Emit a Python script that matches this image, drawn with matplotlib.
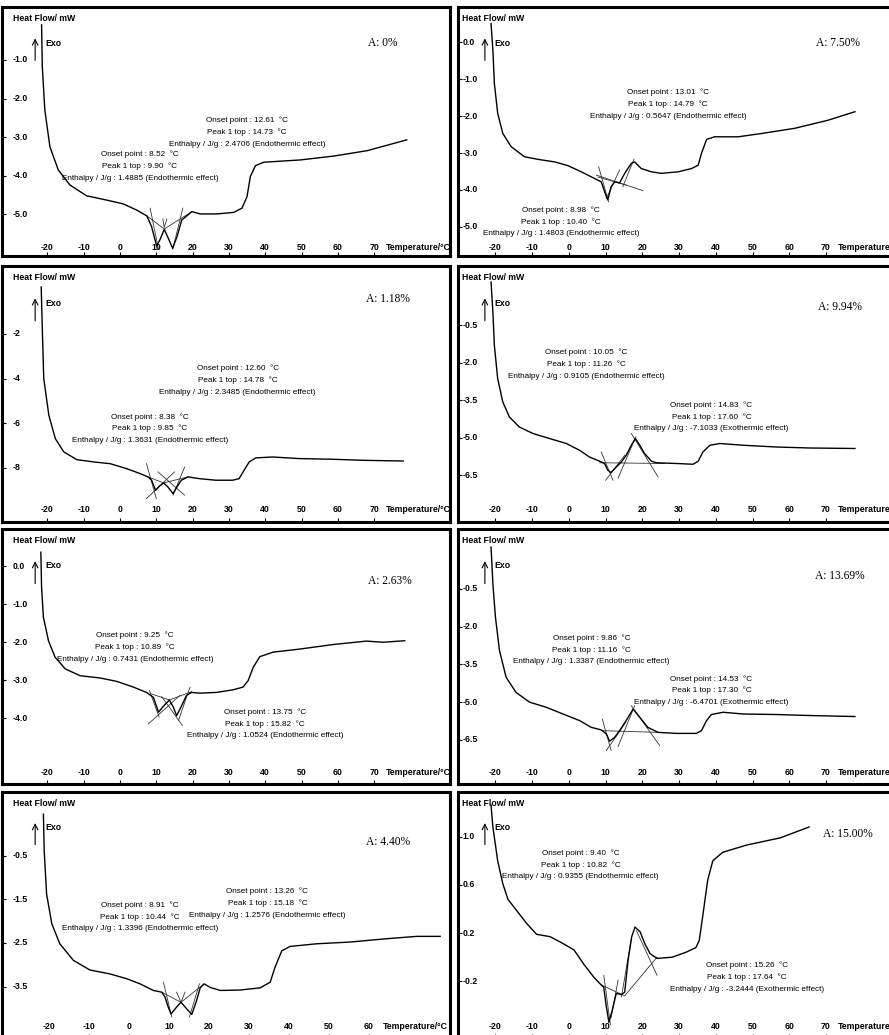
import matplotlib.pyplot as plt
from matplotlib.transforms import blended_transform_factory

plt.rcParams["font.family"] = ["Liberation Sans Narrow", "Liberation Sans", "DejaVu Sans"]

# ---- DSC curves (temperature in degC, heat flow in mW) ----
t_a0 = [-21.6, -21.4, -20.7, -19.3, -17.0, -13.8, -9.2, -3.7, 0.9, 4.6, 7.4, 8.7, 10.1, 11.0,
        12.2, 13.3, 14.5, 15.7, 17.0, 19.8, 22.1, 26.7, 31.3, 33.6, 35.0, 35.9, 37.3, 39.6,
        49.7, 58.9, 68.1, 79.0]
hf_a0 = [-0.09, -1.17, -2.30, -3.25, -3.85, -4.24, -4.52, -4.63, -4.73, -4.89, -5.04, -5.32,
         -5.82, -5.66, -5.39, -5.62, -5.88, -5.58, -5.15, -4.93, -4.99, -4.99, -4.95, -4.84,
         -4.54, -4.02, -3.74, -3.65, -3.59, -3.49, -3.35, -3.07]

t_a118 = [-21.7, -21.4, -21.0, -19.6, -17.8, -15.5, -11.9, -7.3, -2.7, 1.8, 5.5, 7.7, 8.7,
          9.8, 10.9, 12.0, 13.2, 14.6, 15.7, 16.9, 18.7, 21.9, 26.4, 31.0, 32.8, 34.2, 35.6,
          37.4, 42.0, 49.2, 58.3, 67.5, 78.0]
hf_a118 = [0.10, -1.76, -4.00, -5.64, -6.69, -7.28, -7.63, -7.73, -7.81, -8.03, -8.25, -8.40,
           -8.55, -9.00, -8.81, -8.67, -8.85, -9.15, -8.85, -8.55, -8.40, -8.48, -8.55, -8.55,
           -8.48, -8.10, -7.73, -7.55, -7.51, -7.58, -7.61, -7.66, -7.69]

t_a263 = [-21.8, -21.6, -21.1, -19.7, -17.9, -15.1, -11.0, -5.5, -0.9, 3.7, 7.3, 9.2, 10.6,
          11.9, 13.6, 14.7, 15.6, 17.0, 18.3, 19.7, 22.0, 26.6, 31.2, 33.9, 35.3, 36.7, 38.5,
          42.2, 49.5, 58.7, 67.9, 72.5, 78.4]
hf_a263 = [0.37, -0.55, -1.34, -1.96, -2.39, -2.70, -2.88, -2.94, -3.03, -3.18, -3.32, -3.45,
           -3.84, -3.69, -3.52, -3.71, -3.93, -3.67, -3.40, -3.32, -3.34, -3.32, -3.25, -3.18,
           -3.01, -2.66, -2.38, -2.26, -2.18, -2.06, -1.97, -2.00, -1.96]

t_a440 = [-21.4, -21.2, -20.6, -19.3, -17.3, -13.9, -9.8, -4.8, -0.6, 2.8, 6.1, 8.2, 9.0, 9.8,
          10.5, 11.9, 13.0, 14.4, 15.7, 16.9, 17.8, 18.8, 20.3, 22.8, 27.8, 32.8, 35.3, 36.5,
          38.2, 40.3, 46.9, 55.3, 63.6, 71.9, 77.8]
hf_a440 = [0.45, -0.39, -1.38, -2.06, -2.52, -2.90, -3.12, -3.21, -3.32, -3.44, -3.59, -3.63,
           -3.74, -3.97, -4.13, -3.97, -3.86, -4.01, -4.14, -3.82, -3.53, -3.44, -3.52, -3.59,
           -3.58, -3.53, -3.40, -3.06, -2.68, -2.58, -2.52, -2.48, -2.41, -2.35, -2.35]

t_a750 = [-21.2, -20.7, -20.3, -19.4, -18.0, -15.7, -12.1, -8.5, -3.9, -0.3, 3.4, 7.0, 8.8,
          10.2, 10.6, 11.5, 12.5, 13.8, 15.2, 17.0, 17.9, 19.7, 22.5, 25.2, 29.7, 33.4, 35.2,
          36.1, 37.5, 39.7, 46.1, 52.5, 61.5, 70.6, 77.9]
hf_a750 = [0.51, -0.21, -1.11, -1.92, -2.47, -2.83, -3.10, -3.17, -3.24, -3.34, -3.51, -3.69,
           -3.78, -4.18, -4.27, -3.91, -3.78, -3.81, -3.55, -3.28, -3.24, -3.42, -3.51, -3.55,
           -3.51, -3.42, -3.33, -3.01, -2.63, -2.56, -2.56, -2.47, -2.33, -2.11, -1.88]

t_a994 = [-21.2, -20.7, -20.3, -19.4, -18.0, -16.2, -13.5, -9.8, -5.3, -0.7, 2.9, 5.6, 8.4,
          9.7, 10.6, 11.5, 12.9, 14.3, 15.6, 17.0, 18.1, 19.3, 20.6, 22.5, 23.8, 29.3, 33.8,
          35.2, 36.5, 38.4, 41.1, 47.5, 56.5, 65.6, 77.9]
hf_a994 = [1.23, 0.03, -1.30, -2.63, -3.57, -4.17, -4.57, -4.83, -5.03, -5.23, -5.50, -5.77,
           -5.94, -6.03, -6.30, -6.39, -6.17, -5.97, -5.70, -5.30, -5.03, -5.30, -5.63, -5.94,
           -6.00, -6.03, -6.06, -5.94, -5.57, -5.30, -5.23, -5.30, -5.37, -5.41, -5.43]

t_a1369 = [-21.2, -20.7, -20.0, -18.9, -17.1, -14.4, -10.7, -6.2, -1.6, 2.9, 6.1, 8.8, 10.2,
           11.1, 12.5, 13.8, 15.6, 17.5, 19.3, 21.5, 24.3, 29.3, 34.7, 36.1, 37.5, 38.8, 42.0,
           47.5, 56.5, 65.6, 77.9]
hf_a1369 = [1.16, -0.30, -1.63, -2.95, -4.01, -4.61, -5.00, -5.20, -5.47, -5.73, -6.00, -6.10,
            -6.26, -6.55, -6.39, -6.13, -5.73, -5.27, -5.60, -6.00, -6.20, -6.24, -6.24, -6.13,
            -5.73, -5.49, -5.40, -5.47, -5.49, -5.53, -5.57]

t_a1500 = [-21.2, -20.7, -19.4, -18.0, -16.6, -14.3, -11.5, -8.8, -5.1, -1.4, 1.4, 4.1, 6.9,
           8.8, 9.5, 10.1, 10.9, 11.8, 12.9, 14.3, 15.2, 16.1, 17.1, 18.0, 19.4, 20.7, 22.1,
           24.0, 28.1, 31.8, 34.6, 35.5, 36.4, 37.8, 39.2, 41.9, 48.4, 57.6, 65.4]
hf_a1500 = [1.26, 1.08, 0.80, 0.61, 0.48, 0.39, 0.28, 0.19, 0.17, 0.11, 0.06, -0.06, -0.17,
            -0.23, -0.25, -0.39, -0.54, -0.44, -0.30, -0.31, -0.29, -0.03, 0.17, 0.25, 0.21,
            0.11, 0.03, -0.01, 0.00, 0.04, 0.08, 0.14, 0.33, 0.64, 0.80, 0.87, 0.93, 0.99, 1.08]

# ---- peak evaluation construction lines (baselines and tangents) ----
guides_a0 = [[(7.4, -5.04), (12.2, -5.38), (19.8, -4.93)], [(8.3, -4.84), (10.6, -5.90)],
             [(17.3, -4.84), (14.55, -5.90)], [(11.8, -5.12), (12.2, -5.34), (12.9, -5.12)]]
guides_a118 = [[(7.7, -8.40), (12.0, -8.67), (18.7, -8.40)], [(7.3, -9.37), (15.0, -8.18)],
               [(10.5, -8.18), (17.8, -9.22)], [(7.3, -7.81), (10.0, -9.37)],
               [(14.6, -9.22), (17.8, -7.96)]]
guides_a263 = [[(8.7, -3.36), (13.6, -3.52), (19.7, -3.30)], [(7.8, -4.15), (16.5, -3.40)],
               [(11.5, -3.43), (17.2, -4.19)], [(8.1, -3.27), (10.8, -3.97)],
               [(16.1, -4.06), (19.3, -3.18)]]
guides_a440 = [[(8.2, -3.63), (13.0, -3.86), (18.75, -3.44)], [(8.6, -3.40), (10.7, -4.20)],
               [(17.6, -3.44), (15.1, -4.20)], [(11.9, -3.63), (13.0, -3.86), (14.0, -3.63)]]
guides_a750 = [[(7.5, -3.60), (20.2, -4.02)], [(7.9, -3.65), (15.6, -3.87)],
               [(8.1, -3.37), (10.8, -4.32)], [(10.2, -4.23), (13.8, -3.46)],
               [(14.7, -3.91), (17.7, -3.17)]]
guides_a994 = [[(8.4, -6.00), (26.1, -6.03)], [(8.8, -5.57), (12.0, -6.70)],
               [(10.0, -6.70), (15.2, -5.70)], [(13.4, -6.61), (18.2, -4.97)],
               [(17.0, -4.83), (24.3, -6.57)]]
guides_a1369 = [[(8.8, -6.13), (24.7, -6.20)], [(9.1, -5.67), (11.5, -6.92)],
                [(10.2, -6.92), (15.5, -5.80)], [(13.4, -6.76), (17.9, -5.14)],
                [(17.0, -5.14), (24.7, -6.72)]]
guides_a1500 = [[(8.8, -0.23), (15.2, -0.32), (24.0, 0.00)], [(9.5, -0.15), (11.3, -0.56)],
                [(11.5, -0.50), (13.4, -0.19)], [(14.3, -0.33), (17.1, 0.17)],
                [(18.4, 0.22), (24.0, -0.15)]]

# ---- peak results printed by the instrument software ----
peaks_a0 = [(12.61, 14.73, "2.4706", "Endothermic"), (8.52, 9.90, "1.4885", "Endothermic")]
peaks_a118 = [(12.60, 14.78, "2.3485", "Endothermic"), (8.38, 9.85, "1.3631", "Endothermic")]
peaks_a263 = [(9.25, 10.89, "0.7431", "Endothermic"), (13.75, 15.82, "1.0524", "Endothermic")]
peaks_a440 = [(8.91, 10.44, "1.3396", "Endothermic"), (13.26, 15.18, "1.2576", "Endothermic")]
peaks_a750 = [(13.01, 14.79, "0.5647", "Endothermic"), (8.98, 10.40, "1.4803", "Endothermic")]
peaks_a994 = [(10.05, 11.26, "0.9105", "Endothermic"), (14.83, 17.60, "-7.1033", "Exothermic")]
peaks_a1369 = [(9.86, 11.16, "1.3387", "Endothermic"), (14.53, 17.30, "-6.4701", "Exothermic")]
peaks_a1500 = [(9.40, 10.82, "0.9355", "Endothermic"), (15.26, 17.64, "-3.2444", "Exothermic")]

sample_labels = ["A: 0%", "A: 1.18%", "A: 2.63%", "A: 4.40%",
                 "A: 7.50%", "A: 9.94%", "A: 13.69%", "A: 15.00%"]

yticks_a0 = [-1.0, -2.0, -3.0, -4.0, -5.0]
yticks_a118 = [-2, -4, -6, -8]
yticks_a263 = [0.0, -1.0, -2.0, -3.0, -4.0]
yticks_a440 = [-0.5, -1.5, -2.5, -3.5]
yticks_a750 = [0.0, -1.0, -2.0, -3.0, -4.0, -5.0]
yticks_a994 = [-0.5, -2.0, -3.5, -5.0, -6.5]
yticks_a1369 = [-0.5, -2.0, -3.5, -5.0, -6.5]
yticks_a1500 = [1.0, 0.6, 0.2, -0.2]

xticks_full = [-20, -10, 0, 10, 20, 30, 40, 50, 60, 70]
xticks_short = [-20, -10, 0, 10, 20, 30, 40, 50, 60]

W, H = 889, 1035
COLS = [(2, 450), (458, 906)]
ROWS = [(7, 256), (266, 522), (529, 784), (792, 1038)]

# panel layout: grid slot, axis limits, height of the x labels, text anchors
panels = [
    dict(col=0, row=0, t=t_a0, hf=hf_a0, guides=guides_a0, peaks=peaks_a0, yt=yticks_a0,
         fmt="{:.1f}", xt=xticks_full, xlim=(-32.5, 90.9), ylim=(-6.08, 0.373), xl_y=0.035,
         blocks=[(35.0, -2.87), (5.5, -3.76)], lab=(72.3, -0.57)),
    dict(col=0, row=1, t=t_a118, hf=hf_a118, guides=guides_a118, peaks=peaks_a118,
         yt=yticks_a118, fmt="{:.0f}", xt=xticks_full, xlim=(-32.5, 90.9), ylim=(-10.42, 1.04),
         xl_y=0.047, blocks=[(32.4, -4.07), (8.2, -6.24)], lab=(73.8, -0.42)),
    dict(col=0, row=2, t=t_a263, hf=hf_a263, guides=guides_a263, peaks=peaks_a263,
         yt=yticks_a263, fmt="{:.1f}", xt=xticks_full, xlim=(-32.5, 90.9), ylim=(-5.73, 0.98),
         xl_y=0.047, blocks=[(4.1, -2.13), (39.9, -4.15)], lab=(74.3, -0.39)),
    dict(col=0, row=3, t=t_a440, hf=hf_a440, guides=guides_a440, peaks=peaks_a440,
         yt=yticks_a440, fmt="{:.1f}", xt=xticks_short, xlim=(-31.75, 80.25), ylim=(-4.68, 0.96),
         xl_y=0.045, blocks=[(2.8, -1.90), (34.6, -1.59)], lab=(64.8, -0.19)),
    dict(col=1, row=0, t=t_a750, hf=hf_a750, guides=guides_a750, peaks=peaks_a750,
         yt=yticks_a750, fmt="{:.1f}", xt=xticks_full, xlim=(-30.2, 91.8), ylim=(-5.79, 0.957),
         xl_y=0.035, blocks=[(27.0, -1.68), (-2.1, -4.86)], lab=(73.4, -0.03)),
    dict(col=1, row=1, t=t_a994, hf=hf_a994, guides=guides_a994, peaks=peaks_a994,
         yt=yticks_a994, fmt="{:.1f}", xt=xticks_full, xlim=(-30.2, 91.8), ylim=(-8.37, 1.87),
         xl_y=0.047, blocks=[(4.7, -2.07), (38.8, -4.17)], lab=(73.8, 0.23)),
    dict(col=1, row=2, t=t_a1369, hf=hf_a1369, guides=guides_a1369, peaks=peaks_a1369,
         yt=yticks_a1369, fmt="{:.1f}", xt=xticks_full, xlim=(-30.2, 91.8), ylim=(-8.25, 1.88),
         xl_y=0.047, blocks=[(6.1, -2.92), (38.8, -4.54)], lab=(73.8, 0.03)),
    dict(col=1, row=3, t=t_a1500, hf=hf_a1500, guides=guides_a1500, peaks=peaks_a1500,
         yt=yticks_a1500, fmt="{:.1f}", xt=xticks_full, xlim=(-30.2, 91.8), ylim=(-0.67, 1.37),
         xl_y=0.045, blocks=[(3.2, 0.765), (48.4, -0.166)], lab=(76.0, 1.02)),
]

TICK_FONT = dict(fontsize=6.3, fontweight="bold")
NOTE_FONT = dict(fontsize=5.9)


def peak_lines(peak):
    onset, top, enthalpy, effect = peak
    return [f"Onset point : {onset:.2f}  \u00b0C",
            f"Peak 1 top : {top:.2f}  \u00b0C",
            f"Enthalpy / J/g : {enthalpy} ({effect} effect)"]


def draw_panel(fig, p, label):
    x0, x1 = COLS[p["col"]]
    y0, y1 = ROWS[p["row"]]
    ax = fig.add_axes([x0 / W, 1 - y1 / H, (x1 - x0) / W, (y1 - y0) / H])
    ax.set_xlim(*p["xlim"])
    ax.set_ylim(*p["ylim"])

    ax.plot(p["t"], p["hf"], color="black", lw=1.0, zorder=3)
    for seg in p["guides"]:
        xs, ys = zip(*seg)
        ax.plot(xs, ys, color="#333333", lw=0.6, zorder=2)

    for side in ax.spines.values():
        side.set_linewidth(2.2)
    ax.set_xticks(p["xt"])
    ax.set_yticks(p["yt"])
    ax.tick_params(direction="in", length=3, width=0.8, labelbottom=False, labelleft=False)

    # tick labels sit inside the frame, as on the instrument printout
    bx = blended_transform_factory(ax.transData, ax.transAxes)
    by = blended_transform_factory(ax.transAxes, ax.transData)
    for v in p["xt"]:
        ax.text(v, p["xl_y"], str(v), transform=bx, ha="center", va="center", **TICK_FONT)
    ax.text(73.3 if p["xt"][-1] == 70 else 63.5, p["xl_y"], "Temperature/\u00b0C",
            transform=bx, ha="left", va="center", **TICK_FONT)
    lx = 0.024 if p["col"] == 0 else 0.010
    for v in p["yt"]:
        ax.text(lx, v, p["fmt"].format(v), transform=by, ha="left", va="center", **TICK_FONT)

    ax.text(lx, 0.955, "Heat Flow/ mW", transform=ax.transAxes, ha="left", va="center",
            **TICK_FONT)
    arrow_x = 0.074 if p["col"] == 0 else 0.060
    ax.annotate("", xy=(arrow_x, 0.885), xytext=(arrow_x, 0.775), xycoords="axes fraction",
                arrowprops=dict(arrowstyle="->", lw=0.8, color="black"))
    ax.text(arrow_x + 0.022, 0.855, "Exo", transform=ax.transAxes, ha="left", va="center",
            **TICK_FONT)

    # each result line is its own text, stacked around the block centre
    for (cx, cy), peak in zip(p["blocks"], p["peaks"]):
        for i, line in enumerate(peak_lines(peak)):
            ax.annotate(line, (cx, cy), xytext=(0, (1 - i) * 8.6), textcoords="offset points",
                        ha="center", va="center", **NOTE_FONT)

    ax.text(*p["lab"], label, ha="center", va="center", fontsize=8.3,
            family=["Liberation Serif", "DejaVu Serif"])


fig = plt.figure(figsize=(W / 100, H / 100), dpi=100)
for p, label in zip(panels, sample_labels):
    draw_panel(fig, p, label)

fig.savefig("out.png", dpi=100, facecolor="white")
